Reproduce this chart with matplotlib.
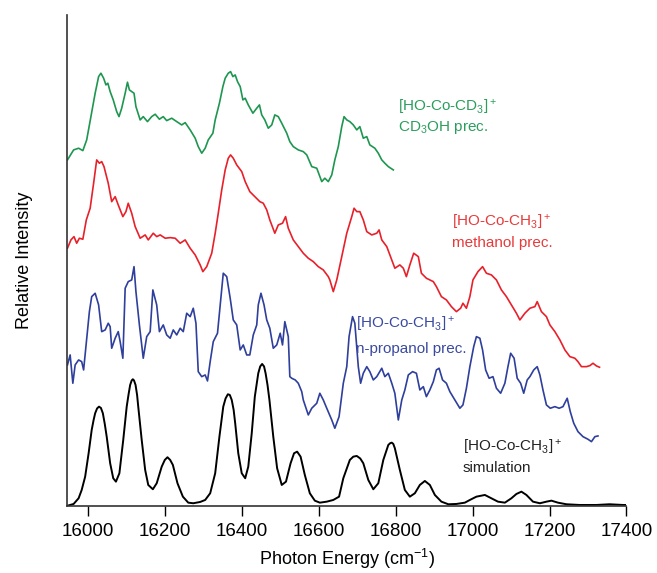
import matplotlib
matplotlib.use("Agg")
import matplotlib.pyplot as plt

plt.rcParams['font.family'] = ['Liberation Sans', 'DejaVu Sans']
plt.rcParams['mathtext.fontset'] = 'custom'
plt.rcParams['mathtext.rm'] = 'Liberation Sans'
plt.rcParams['mathtext.it'] = 'Liberation Sans:italic'

# spectra (x in cm-1, y in arbitrary units incl. stacking offset)
green_x = [15947, 15963, 15976, 15987, 15997, 16008, 16019, 16028, 16034, 16041, 16047, 16052,
           16058, 16066, 16075, 16081, 16088, 16097, 16103, 16108, 16114, 16120, 16125, 16136,
           16144, 16155, 16166, 16175, 16186, 16196, 16205, 16218, 16231, 16244, 16253, 16266,
           16279, 16287, 16296, 16305, 16313, 16325, 16331, 16342, 16351, 16357, 16365, 16371,
           16377, 16383, 16389, 16396, 16403, 16409, 16417, 16429, 16439, 16446, 16452, 16460,
           16469, 16478, 16486, 16495, 16504, 16517, 16525, 16534, 16547, 16560, 16569, 16582,
           16595, 16608, 16616, 16625, 16634, 16642, 16651, 16660, 16666, 16673, 16681, 16690,
           16699, 16707, 16716, 16725, 16733, 16746, 16755, 16764, 16772, 16781, 16794]
green_y = [346, 356, 357.7, 355.3, 366, 389.3, 412.7, 429.3, 432.7, 427.7, 421, 422.7,
           414.3, 406, 394.3, 389.3, 397.7, 412.7, 423.7, 416, 414.3, 412.7, 399.3, 386,
           389.3, 384.3, 389.3, 391.7, 386.7, 389.3, 385.3, 387.7, 384.3, 381, 383.3, 376,
           367.7, 359.3, 352.7, 357.7, 366, 372.7, 386, 402.7, 419.3, 427.7, 432.7, 434.3,
           429.3, 431, 424.3, 419.3, 406, 407.7, 401, 392.7, 397.7, 401, 391, 386,
           377.7, 381, 391, 389.3, 382.7, 372.7, 364.3, 359.3, 356, 354.3, 351, 339.3,
           337.7, 324.3, 327.7, 324.3, 331, 346, 359.3, 379.3, 389.3, 386, 384.3, 381,
           376, 379.3, 367.7, 369.3, 361, 357.7, 352.7, 346, 342.7, 339.3, 336]

red_x = [15947, 15956, 15964, 15971, 15978, 15987, 15996, 16006, 16015, 16023, 16030, 16036,
         16042, 16053, 16062, 16071, 16079, 16091, 16099, 16105, 16114, 16123, 16136, 16149,
         16157, 16170, 16179, 16188, 16201, 16214, 16227, 16240, 16253, 16266, 16279, 16292,
         16299, 16309, 16322, 16331, 16339, 16348, 16357, 16365, 16371, 16378, 16387, 16400,
         16409, 16421, 16434, 16447, 16456, 16465, 16473, 16486, 16495, 16506, 16514, 16521,
         16534, 16547, 16560, 16573, 16586, 16599, 16612, 16625, 16629, 16638, 16647, 16660,
         16673, 16686, 16692, 16699, 16707, 16716, 16725, 16738, 16751, 16757, 16764, 16777,
         16790, 16798, 16811, 16820, 16828, 16837, 16847, 16859, 16867, 16880, 16898, 16906,
         16919, 16932, 16945, 16958, 16969, 16975, 16984, 16993, 17001, 17014, 17026, 17036,
         17049, 17062, 17075, 17088, 17101, 17114, 17123, 17136, 17149, 17162, 17168, 17179,
         17192, 17201, 17214, 17227, 17240, 17253, 17266, 17274, 17283, 17296, 17305, 17313,
         17322, 17330]
red_y = [257.7, 266, 269.3, 262.7, 267.7, 266.7, 286, 297.7, 322.7, 346, 342.7, 344.3,
         339.3, 322.7, 304.3, 309.3, 301, 289.3, 294.3, 302.7, 292.7, 279.3, 267.7, 271,
         266, 272.7, 269.3, 271, 267.7, 268.3, 267.7, 262.7, 266, 257.7, 251, 241,
         234.3, 239.3, 252.7, 272.7, 292.7, 316, 336, 347.7, 351, 347.7, 341, 334.3,
         324.3, 314.3, 309.3, 304.3, 302.7, 296, 286, 272.7, 281, 282.7, 289.3, 277.7,
         266, 259.3, 252.7, 247.7, 244.3, 239.3, 236, 229.3, 226, 214.3, 226, 249.3,
         272.7, 289.3, 297.7, 294.3, 294.3, 286, 274.3, 271, 272.7, 276, 266, 259.3,
         246, 237.7, 241, 237.7, 229.3, 241, 252.7, 249.3, 232.7, 227.7, 224.3, 219.3,
         209.3, 206, 199.3, 194.3, 197.7, 202.7, 197.7, 209.3, 226, 234.3, 239.3, 232.7,
         231, 226, 216, 209.3, 201, 192.7, 186, 192.7, 197.7, 199.3, 204.3, 194.3,
         189.3, 181, 174.3, 166, 156, 149.3, 147.7, 144.3, 139.3, 139.3, 140.3, 142.7,
         140, 138.7]

blue_x = [15947, 15954, 15961, 15967, 15976, 15984, 15989, 15997, 16004, 16010, 16019, 16028,
          16036, 16045, 16053, 16058, 16062, 16071, 16079, 16084, 16091, 16097, 16105, 16114,
          16120, 16125, 16134, 16144, 16153, 16162, 16169, 16179, 16186, 16196, 16205, 16214,
          16222, 16231, 16240, 16248, 16257, 16266, 16274, 16281, 16287, 16296, 16305, 16311,
          16318, 16326, 16337, 16345, 16352, 16361, 16370, 16378, 16387, 16396, 16404, 16413,
          16421, 16430, 16439, 16443, 16450, 16458, 16465, 16473, 16482, 16491, 16500, 16506,
          16512, 16521, 16525, 16530, 16539, 16547, 16556, 16560, 16573, 16582, 16595, 16603,
          16612, 16621, 16634, 16642, 16653, 16664, 16673, 16679, 16688, 16694, 16703, 16709,
          16716, 16725, 16733, 16742, 16751, 16764, 16772, 16781, 16790, 16798, 16807, 16816,
          16824, 16833, 16844, 16854, 16863, 16872, 16880, 16889, 16898, 16906, 16913, 16922,
          16932, 16941, 16954, 16967, 16975, 16984, 16993, 17003, 17010, 17019, 17026, 17034,
          17043, 17053, 17062, 17073, 17084, 17092, 17099, 17108, 17116, 17125, 17133, 17142,
          17149, 17159, 17168, 17175, 17183, 17192, 17202, 17214, 17225, 17235, 17246, 17254,
          17263, 17274, 17287, 17300, 17309, 17318, 17326]
blue_y = [141, 151, 122.7, 141, 146, 144.3, 136, 167.7, 194.3, 209.3, 212.7, 201,
          174.3, 176, 182.7, 179.3, 157.7, 167.7, 174.3, 164.3, 147.7, 217.7, 224.3, 226,
          239.3, 214.3, 181, 147.7, 169.3, 174.3, 216, 201, 174.3, 181, 171, 167.7,
          176, 171, 177.7, 174.3, 192.7, 189.3, 197.7, 182.7, 134.3, 129.3, 131, 125,
          144.3, 164.3, 172.7, 204.3, 232.7, 229.3, 207.7, 186, 181, 156, 161, 151,
          151, 171, 181, 201, 212.7, 201, 186, 177.7, 157.7, 161, 172.7, 161,
          184.3, 169.3, 129.3, 127.7, 126, 122.7, 114.3, 106, 91, 97.7, 102.7, 112.7,
          106, 97.7, 86, 77.7, 89.3, 122.7, 139.3, 169.3, 189.3, 182.7, 139.3, 122.7,
          132.7, 139.3, 134.3, 126, 129.3, 137.7, 129.3, 132.7, 122.7, 112.7, 86, 106,
          116, 131, 134.3, 132.7, 116, 119.3, 109.3, 116, 124.3, 136, 137.7, 126,
          122.7, 114.3, 106, 97.7, 101, 117.7, 139.3, 159.3, 169.3, 167.7, 156, 136,
          127.7, 129.3, 117.7, 112.7, 122.7, 139.3, 152.7, 147.7, 127.7, 122.7, 112.7, 126,
          129.3, 136, 139.3, 131, 116, 101, 97.7, 99.3, 97.7, 99.3, 107.7, 94.3,
          82.7, 74.3, 69.3, 66.7, 64.3, 69.3, 70]

sim_x = [15945, 15963, 15976, 15984, 15993, 16002, 16010, 16015, 16019, 16024, 16029, 16034,
         16039, 16044, 16049, 16058, 16066, 16073, 16082, 16092, 16101, 16106, 16110, 16114,
         16117, 16120, 16124, 16128, 16131, 16140, 16149, 16157, 16169, 16179, 16192, 16200,
         16207, 16214, 16221, 16233, 16247, 16261, 16274, 16292, 16305, 16318, 16331, 16342,
         16352, 16358, 16364, 16369, 16374, 16379, 16383, 16391, 16400, 16409, 16417, 16426,
         16434, 16443, 16448, 16453, 16458, 16462, 16467, 16472, 16482, 16492, 16504, 16515,
         16527, 16536, 16544, 16553, 16564, 16577, 16590, 16603, 16621, 16638, 16653, 16664,
         16681, 16690, 16699, 16708, 16716, 16729, 16742, 16755, 16768, 16781, 16786, 16790,
         16794, 16798, 16811, 16824, 16837, 16850, 16863, 16876, 16889, 16902, 16919, 16937,
         16958, 16980, 16993, 17010, 17032, 17049, 17066, 17084, 17101, 17114, 17127, 17140,
         17157, 17175, 17192, 17205, 17222, 17244, 17278, 17322, 17356, 17391, 17400]
sim_y = [0, 2, 7.7, 16, 29.3, 52.7, 76, 86, 92.7, 97.5, 99.3, 98, 92.7, 82, 69.3, 42.7,
         27.7, 24.3, 32.7, 66, 99.3, 112, 121, 125.5, 126.7, 125.5, 121, 111, 99.3, 66, 36, 21,
         16.7, 22.7, 39.3, 46, 48.7, 46, 41, 22.7, 9.3, 3.3, 2.7, 4, 6, 12.7,
         32.7, 69.3, 99.3, 107.5, 111.7, 111, 106, 96, 82.7, 52.7, 32.7, 27.7, 39.3, 72.7,
         109.3, 132.7, 139.5, 142, 139.5, 132.7, 121, 106, 69.3, 37.7, 21, 24.3,
         42.7, 52.7, 54.3, 49.3, 31, 12.7, 5.3, 3.3, 4.3, 6, 9.3, 27.7,
         46, 49.3, 50, 47.5, 42.7, 26, 16.7, 22.7, 46, 61, 62.8, 63.3,
         62, 57.7, 36, 16, 9.3, 12.7, 21, 25, 21, 11, 4.3, 1.7,
         2, 3.3, 6, 9.3, 11, 7.7, 4.3, 3.3, 7.7, 12, 14.3, 11,
         4.3, 2.7, 4.3, 5.3, 3.3, 1.7, 1, 1, 1.7, 1, 1]

fig = plt.figure(figsize=(6.57, 5.73), dpi=100)
ax = fig.add_axes([0.1015, 0.117, 0.852, 0.857])

ax.plot(green_x, green_y, color='#1e9650', lw=1.2)
ax.plot(red_x, red_y, color='#e8202a', lw=1.2)
ax.plot(blue_x, blue_y, color='#2e3f9c', lw=1.2)
ax.plot(sim_x, sim_y, color='black', lw=1.4, solid_joinstyle='round')

fs = 11
ax.text(16807, 398, '[HO-Co-CD$_3$]$^+$', color='#2a9e5c', fontsize=fs, va='center')
ax.text(16807, 378, 'CD$_3$OH prec.', color='#2a9e5c', fontsize=fs, va='center')
ax.text(16946, 283, '[HO-Co-CH$_3$]$^+$', color='#e83a3a', fontsize=fs, va='center')
ax.text(16946, 263, 'methanol prec.', color='#e83a3a', fontsize=fs, va='center')
ax.text(16697, 181, '[HO-Co-CH$_3$]$^+$', color='#3a4aa0', fontsize=fs, va='center')
ax.text(16697, 157, 'n-propanol prec.', color='#3a4aa0', fontsize=fs, va='center')
ax.text(16974, 58, '[HO-Co-CH$_3$]$^+$', color='#222222', fontsize=fs, va='center')
ax.text(16974, 38, 'simulation', color='#222222', fontsize=fs, va='center')

ax.set_xlim(15945, 17400)
ax.set_ylim(0, 491)
ax.set_xticks(range(16000, 17401, 200))
ax.set_yticks([])
ax.tick_params(axis='x', direction='out', length=7, width=1, labelsize=13.5, pad=5)
ax.spines['top'].set_visible(False)
ax.spines['right'].set_visible(False)
for s in ['left', 'bottom']:
    ax.spines[s].set_linewidth(1.2)
    ax.spines[s].set_color('#333333')

ax.set_xlabel('Photon Energy (cm$^{-1}$)', fontsize=13, labelpad=5)
ax.set_ylabel('Relative Intensity', fontsize=13, labelpad=24)

fig.savefig('out.png', dpi=100)
